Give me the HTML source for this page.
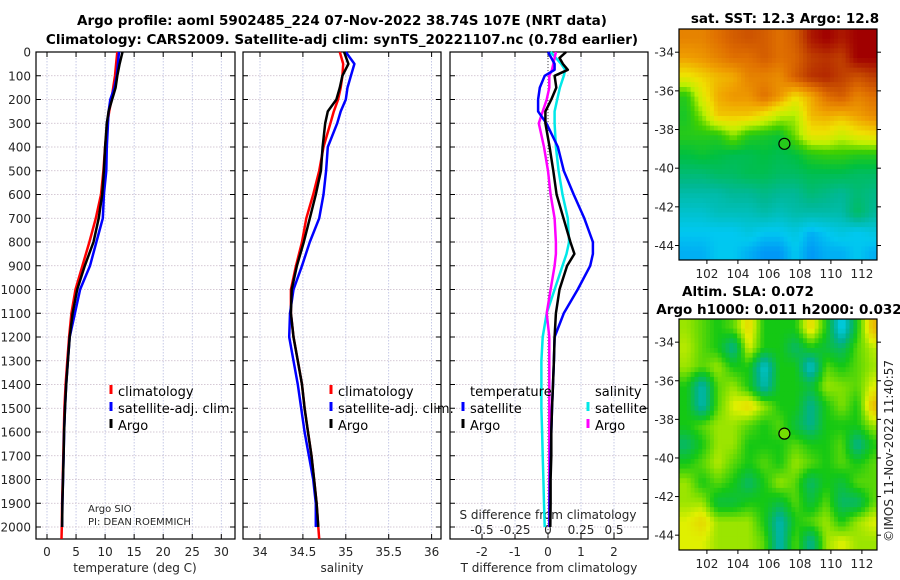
<!DOCTYPE html>
<html><head><meta charset="utf-8">
<style>
html,body{margin:0;padding:0;background:#fff;}
svg{display:block;font-family:"DejaVu Sans","Liberation Sans",sans-serif;}
.tl{font-size:12px;fill:#262626;}
.tt{font-size:13.5px;font-weight:bold;fill:#000;}
.lg{font-size:13px;fill:#000;}
</style></head>
<body>
<svg id="chart" width="900" height="580" viewBox="0 0 900 580">
<text class="tt" x="342" y="25" text-anchor="middle">Argo profile: aoml 5902485_224 07-Nov-2022 38.74S 107E (NRT data)</text>
<text class="tt" x="342" y="44" text-anchor="middle">Climatology: CARS2009. Satellite-adj clim: synTS_20221107.nc (0.78d earlier)</text>
<text class="tt" x="785" y="23" text-anchor="middle">sat. SST: 12.3 Argo: 12.8</text>
<text class="tt" x="748" y="296" text-anchor="middle">Altim. SLA: 0.072</text>
<text class="tt" x="779" y="314" text-anchor="middle">Argo h1000: 0.011 h2000: 0.032</text>
<text class="tl" x="0" y="0" transform="translate(893,542) rotate(-90)">©IMOS 11-Nov-2022 11:40:57</text>
<g id="layer"></g>
</svg>
<script>
// ---- profile data ----
const depths = [0,50,100,150,200,250,300,400,500,600,700,800,900,1000,1100,1200,1300,1400,1500,1600,1700,1800,1900,2000,2050];
const climT = [12.1,11.9,11.7,11.4,11.1,10.7,10.4,10.0,9.7,9.3,8.4,7.3,6.1,4.9,4.2,3.8,3.5,3.2,3.0,2.9,2.8,2.7,2.6,2.55,2.5];
const argoT = [13.0,12.5,12.1,11.8,11.2,10.6,10.3,10.0,9.8,9.5,8.9,8.0,6.5,5.2,4.4,3.9,3.6,3.3,3.1,2.95,2.85,2.75,2.65,2.6];
const satT = [12.4,12.2,12.0,11.6,10.9,10.6,10.5,10.3,10.2,9.8,9.6,8.5,7.4,5.7,4.8,3.9,3.6,3.3,3.1,2.95,2.85,2.75,2.65,2.6];
const climS = [34.93,34.97,34.96,34.94,34.91,34.86,34.82,34.74,34.69,34.62,34.54,34.49,34.42,34.36,34.36,34.39,34.44,34.49,34.52,34.56,34.60,34.63,34.66,34.68,34.69];
const argoS = [34.98,35.03,34.96,34.93,34.89,34.79,34.76,34.73,34.71,34.65,34.58,34.51,34.43,34.37,34.36,34.39,34.44,34.49,34.52,34.56,34.60,34.63,34.66,34.68];
const satS = [35.0,35.10,35.06,35.02,35.0,34.94,34.9,34.79,34.77,34.74,34.69,34.58,34.49,34.39,34.35,34.34,34.39,34.44,34.48,34.52,34.57,34.62,34.65,34.65];
const diffDepths = [0,25,50,75,100,150,200,250,300,400,500,600,700,800,850,900,1000,1100,1200,1300,1400,1500,1600,1700,1800,1900,2000];
const satTdiff = [0,0.1,0.2,0.2,-0.1,-0.25,-0.3,-0.3,-0.05,0.3,0.48,0.78,1.1,1.36,1.36,1.28,0.9,0.48,0.2,0.18,0.15,0.12,0.1,0.08,0.06,0.05,0.05];
const argoTdiff = [0.55,0.35,0.45,0.6,0.2,0.25,0.1,-0.08,-0.08,0.05,0.16,0.26,0.47,0.68,0.8,0.58,0.35,0.24,0.2,0.18,0.15,0.12,0.1,0.1,0.08,0.08,0.07];
const satSdiff = [0.02,0.06,0.1,0.13,0.12,0.09,0.07,0.05,0.05,0.06,0.08,0.11,0.15,0.16,0.14,0.11,0.05,-0.01,-0.04,-0.05,-0.05,-0.05,-0.045,-0.04,-0.035,-0.03,-0.025];
const argoSdiff = [0.06,0.05,0.04,0.03,0.01,0.01,-0.01,-0.04,-0.07,-0.03,0,0.02,0.05,0.06,0.06,0.05,0.02,-0.01,0.01,0.01,0.01,0.01,0.01,0.01,0.01,0.01,0.01];
const depthTicks = [0,100,200,300,400,500,600,700,800,900,1000,1100,1200,1300,1400,1500,1600,1700,1800,1900,2000];
const tempTicks = [0,5,10,15,20,25,30];
const salTicks = [34,34.5,35,35.5,36];
const salTickLabels = ["34","34.5","35","35.5","36"];
const tdTicks = [-2,-1,0,1,2];
const sdTicks = [-0.5,-0.25,0,0.25,0.5];
const sdTickLabels = ["-0.5","-0.25","0","0.25","0.5"];
// ---- map data (1 degree nodes, rows north->south from -33.3, cols from 100.7E) ----
const sstGrid = [
[14.8,14.8,15,15.2,15.3,15.2,15,15.2,15.8,16,15.8,16,16],
[14.5,14.6,14.8,15,15,15.2,15,15.1,15.5,15.6,15.5,16,16],
[13.9,14.1,14.3,14.4,14.8,14.8,14.7,15.2,15.6,15.7,15.5,15.3,15.5],
[12.8,13.8,14.4,14.6,14.6,15,14.6,14.0,14.4,15,15.2,14.8,15],
[12.7,13.3,14.2,14.2,14.2,13.9,13.5,13.4,14.3,14.4,14.3,14.5,14.7],
[12.8,12.8,12.8,13.3,12.8,12.7,12.6,13.2,13.9,13.9,13.6,13.9,14.0],
[12.5,12.6,12.5,12.4,12.4,12.5,12.4,12.5,12.8,12.9,12.9,12.8,12.8],
[12.2,12.2,12.3,12.3,12.4,12.4,12.3,12.3,12.4,12.4,12.4,12.3,12.3],
[11.9,11.9,11.9,12.0,12.0,12.1,12.0,12.0,12.2,12.1,12.0,12.2,12.1],
[11.7,11.7,11.8,11.8,11.8,11.9,11.8,11.9,11.9,11.9,11.9,12.3,12.0],
[11.5,11.5,11.5,11.5,11.6,11.5,11.5,11.6,11.4,11.5,11.6,11.5,11.6],
[11.4,11.4,11.5,11.5,11.4,11.3,11.3,11.5,11.3,11.4,11.4,11.5,11.4]];
const slaGrid = [
[0.1,0.05,0,0.05,0.2,0,0,0,0.2,0,-0.3,0,0.25],
[0.12,0.05,0,-0.15,0.15,0,0,-0.1,0,-0.05,-0.1,0.05,0.12],
[0.1,0.05,0.1,0,0,-0.25,0,0,-0.25,0.05,0,0.05,0.1],
[0,-0.2,0.05,0.1,0,-0.2,0,0,-0.05,0.1,0.08,0.05,0.15],
[0,-0.2,0.05,0.15,0.2,0.1,0,0,-0.15,0,0.08,0,0.25],
[0,0.05,0.1,0.1,0.05,0,0.05,-0.05,-0.15,0,0,0,0.1],
[-0.1,0,0.1,0.1,0,0,0,0.05,0,0,0.05,-0.15,0],
[0,0.05,0.12,0.05,0,0.05,0,0.1,0.05,0,0.05,0,0.05],
[0.1,0,0.05,0,-0.1,0,0.1,0.05,-0.1,0,-0.05,0.05,0.05],
[0.1,0.1,-0.05,-0.05,0,0,-0.05,0.05,-0.05,0.05,-0.1,-0.1,0.05],
[0.15,0.2,0.1,0.1,0.1,0,-0.2,0,0.05,0.1,0,0.1,0.15],
[0.15,0.15,0.1,0.1,0.1,0.05,-0.2,0.05,-0.15,0.1,0.15,0.1,0.1]];
const lonTicks = [102,104,106,108,110,112];
const latTicks = [-34,-36,-38,-40,-42,-44];
const argoPos = [107,-38.74];
const argoSST = [12.8];
const argoSLA = [0.072];

const NS = "http://www.w3.org/2000/svg";
const layer = document.getElementById('layer');
function mk(tag, attrs, parent){ const e=document.createElementNS(NS,tag); for(const k in attrs) e.setAttribute(k,attrs[k]); (parent||layer).appendChild(e); return e; }

const yTop=52, yBot=539;
const yD = d => 52 + d*0.2375;
const xT = v => 47 + 5.81*v;
const xS = v => 260 + 85.8*(v-34);
const xTd = v => 548 + 33*v;
const xSd = v => 548 + 132*v;

const panels = [{x0:36,x1:235,name:'temperature-panel'},{x0:243,x1:441,name:'salinity-panel'},{x0:450,x1:648,name:'difference-panel'}];

function gridAndFrame(p, xs){
  const g = mk('g',{});
  
  
  xs.forEach(x=>{ const l=mk('line',{x1:x,x2:x,y1:yTop,y2:yBot,stroke:'#b8bce0','stroke-width':0.8,'stroke-dasharray':'1.5,1.5'},g);
    
     });
  depthTicks.forEach(d=>{ const y=yD(d);
    const l=mk('line',{x1:p.x0,x2:p.x1,y1:y,y2:y,stroke:'#c8b8c8','stroke-width':0.8,'stroke-dasharray':'1.5,1.5'},g);
    
    
    mk('line',{x1:p.x0,x2:p.x0+5,y1:y,y2:y,stroke:'#000','stroke-width':1},g);
    mk('line',{x1:p.x1-5,x2:p.x1,y1:y,y2:y,stroke:'#000','stroke-width':1},g);
  });
  xs.forEach(x=>{ mk('line',{x1:x,x2:x,y1:yBot,y2:yBot-5,stroke:'#000'},g); mk('line',{x1:x,x2:x,y1:yTop,y2:yTop+5,stroke:'#000'},g); });
  const r=mk('rect',{x:p.x0,y:yTop,width:p.x1-p.x0,height:yBot-yTop,fill:'none',stroke:'#000','stroke-width':1.2},g);
  
  
  return g;
}
gridAndFrame(panels[0], tempTicks.map(xT));
gridAndFrame(panels[1], salTicks.map(xS));
gridAndFrame(panels[2], tdTicks.map(xTd));
const z = mk('line',{x1:xTd(0),x2:xTd(0),y1:yTop,y2:yBot,stroke:'#444','stroke-width':1,'stroke-dasharray':'1,2'});



depthTicks.forEach(d=>{ const t=mk('text',{x:31,y:yD(d)+4.5,'text-anchor':'end',class:'tl'}); t.textContent=d;
  
   });
tempTicks.forEach(v=>{ const t=mk('text',{x:xT(v),y:556,'text-anchor':'middle',class:'tl'}); t.textContent=v;
  
   });
salTicks.forEach((v,i)=>{ const t=mk('text',{x:xS(v),y:556,'text-anchor':'middle',class:'tl'}); t.textContent=salTickLabels[i];
  
   });
tdTicks.forEach(v=>{ const t=mk('text',{x:xTd(v),y:556,'text-anchor':'middle',class:'tl'}); t.textContent=v;
  
   });
sdTicks.forEach((v,i)=>{ const t=mk('text',{x:xSd(v),y:534,'text-anchor':'middle',class:'tl'}); t.textContent=sdTickLabels[i];
  
   });

function label(txt,x,y,name,anchor,cls){ const t=mk('text',{x:x,y:y,'text-anchor':anchor||'middle',class:cls||'tl'}); t.textContent=txt;
  
   return t; }
label('temperature (deg C)',135,572,'temperature-axis-title');
label('salinity',342,572,'salinity-axis-title');
label('T difference from climatology',549,572,'t-difference-axis-title');
label('S difference from climatology',548,519,'s-difference-axis-title');
const a1=label('Argo SIO',88,512,'argo-institution-note','start'); a1.style.fontSize='10px';
const a2=label('PI: DEAN ROEMMICH',88,525,'argo-pi-note','start'); a2.style.fontSize='10px';

function profile(vals, dep, xf, color, name, w){
  const pts = vals.map((v,i)=>xf(v).toFixed(1)+','+yD(dep[i]).toFixed(1)).join(' ');
  const pl = mk('polyline',{points:pts,fill:'none',stroke:color,'stroke-width':w||2.5,'stroke-linejoin':'round'});
  
  
}
profile(climT, depths, xT, '#ff0000', 'climatology-temperature-line');
profile(satT, depths, xT, '#0000ff', 'satellite-temperature-line');
profile(argoT, depths, xT, '#000000', 'argo-temperature-line');
profile(climS, depths, xS, '#ff0000', 'climatology-salinity-line');
profile(satS, depths, xS, '#0000ff', 'satellite-salinity-line');
profile(argoS, depths, xS, '#000000', 'argo-salinity-line');
profile(satSdiff, diffDepths, xSd, '#00e8e8', 'satellite-salinity-difference-line');
profile(argoSdiff, diffDepths, xSd, '#ff00ff', 'argo-salinity-difference-line');
profile(satTdiff, diffDepths, xTd, '#0000ff', 'satellite-temperature-difference-line');
profile(argoTdiff, diffDepths, xTd, '#000000', 'argo-temperature-difference-line');

function legendEntry(x,y,color,txt,name){
  const g=mk('g',{});
  
  
  mk('line',{x1:x,x2:x,y1:y-11,y2:y-2,stroke:color,'stroke-width':3},g);
  const t=mk('text',{x:x+7,y:y,class:'lg'},g); t.textContent=txt;
}
legendEntry(111,396,'#ff0000','climatology','legend-climatology-temperature');
legendEntry(111,413,'#0000ff','satellite-adj. clim.','legend-satellite-temperature');
legendEntry(111,430,'#000000','Argo','legend-argo-temperature');
legendEntry(331,396,'#ff0000','climatology','legend-climatology-salinity');
legendEntry(331,413,'#0000ff','satellite-adj. clim.','legend-satellite-salinity');
legendEntry(331,430,'#000000','Argo','legend-argo-salinity');
label('temperature',470,396,'legend-title-temperature','start','lg');
label('salinity',595,396,'legend-title-salinity','start','lg');
legendEntry(463,413,'#0000ff','satellite','legend-satellite-t-difference');
legendEntry(463,430,'#000000','Argo','legend-argo-t-difference');
legendEntry(588,413,'#00e8e8','satellite','legend-satellite-s-difference');
legendEntry(588,430,'#ff00ff','Argo','legend-argo-s-difference');

// ---- maps ----
function lerpColor(stops, v){
  if(v<=stops[0][0]) return stops[0][1];
  for(let i=1;i<stops.length;i++){ if(v<=stops[i][0]){ const a=stops[i-1],b=stops[i],t=(v-a[0])/(b[0]-a[0]);
    return [0,1,2].map(k=>Math.round(a[1][k]+(b[1][k]-a[1][k])*t)); } }
  return stops[stops.length-1][1];
}
const sstStops=[[11.0,[0,80,255]],[11.5,[0,200,240]],[12.0,[0,184,150]],[12.5,[0,192,64]],[13.0,[64,208,0]],[13.5,[192,240,0]],[14.0,[240,224,0]],[14.5,[240,160,0]],[15.0,[224,112,0]],[15.5,[192,64,0]],[16.0,[160,0,0]]];
const slaStops=[[-0.3,[0,208,240]],[-0.15,[0,176,144]],[0,[20,200,20]],[0.08,[128,224,0]],[0.15,[224,240,0]],[0.3,[240,160,0]]];
const rgb=c=>'rgb('+c[0]+','+c[1]+','+c[2]+')';
function sample(grid, r, c){
  const R=grid.length-1, C=grid[0].length-1;
  r=Math.max(0,Math.min(R,r)); c=Math.max(0,Math.min(C,c));
  const r0=Math.floor(r), c0=Math.floor(c), r1=Math.min(R,r0+1), c1=Math.min(C,c0+1), fr=r-r0, fc=c-c0;
  return grid[r0][c0]*(1-fr)*(1-fc)+grid[r0][c1]*(1-fr)*fc+grid[r1][c0]*fr*(1-fc)+grid[r1][c1]*fr*fc;
}

function drawMap(m, grid, stops, argoVal, name){
  const xL = lon => m.x0 + (lon-100.2)*15.5;
  const yL = lat => m.y0 + (-32.8-lat)*m.sy;
  const g=mk('g',{});
  
  
  const clip=mk('clipPath',{id:name+'-clip'},g); mk('rect',{x:m.x0,y:m.y0,width:m.x1-m.x0,height:m.y1-m.y0},clip);
  const cg=mk('g',{'clip-path':'url(#'+name+'-clip)'},g);
  const step=0.25;
  for(let lat=-32.8; lat>-44.9; lat-=step){
    for(let lon=100.2; lon<113.1; lon+=step){
      const r=(-32.8-lat+step/2)-0.5, c=(lon-100.2+step/2)-0.5;
      const v=sample(grid,r,c);
      const cell=mk('rect',{x:xL(lon).toFixed(2),y:yL(lat).toFixed(2),width:(15.5*step+0.5).toFixed(2),height:(m.sy*step+0.5).toFixed(2),fill:rgb(lerpColor(stops,v))},cg);
      
      
    }
  }
  const dot=mk('circle',{cx:xL(argoPos[0]),cy:yL(argoPos[1]),r:5.5,fill:rgb(lerpColor(stops,argoVal)),stroke:'#000','stroke-width':1.2},g);
  
  
  mk('rect',{x:m.x0,y:m.y0,width:m.x1-m.x0,height:m.y1-m.y0,fill:'none',stroke:'#000','stroke-width':1.2},g);
  lonTicks.forEach(l=>{ const x=xL(l);
    mk('line',{x1:x,x2:x,y1:m.y1,y2:m.y1+4,stroke:'#000'},g);
    const t=mk('text',{x:x,y:m.y1+18,'text-anchor':'middle',class:'tl'},g); t.textContent=l;
    
     });
  latTicks.forEach(l=>{ const y=yL(l);
    mk('line',{x1:m.x0-4,x2:m.x0,y1:y,y2:y,stroke:'#000'},g);
    mk('line',{x1:m.x1,x2:m.x1+4,y1:y,y2:y,stroke:'#000'},g);
    const t=mk('text',{x:m.x0-5,y:y+4.5,'text-anchor':'end',class:'tl'},g); t.textContent=l;
    
     });
}
drawMap({x0:679,x1:877,y0:29,y1:260,sy:19.33}, sstGrid, sstStops, argoSST[0], 'sst-map');
drawMap({x0:679,x1:877,y0:319,y1:550,sy:19.3}, slaGrid, slaStops, argoSLA[0], 'sla-map');
</script>
</body></html>
